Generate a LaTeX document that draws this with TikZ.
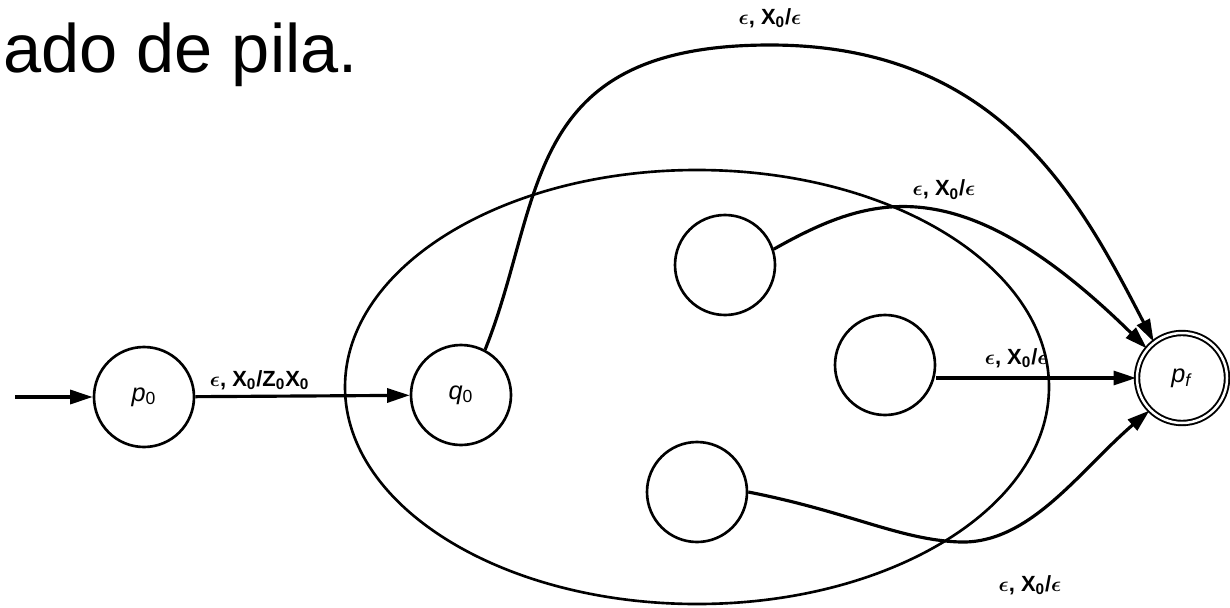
\documentclass[tikz,border=0pt]{standalone}
\usepackage{fontspec}
\setmainfont{Liberation Sans}
\usepackage{amsmath}
\usetikzlibrary{arrows.meta, positioning}
\tikzset{
	state/.style ={circle, draw=black, line width=1.5pt, minimum size=2cm, inner sep=0pt, font=\Large},
	accept/.style={state, double=white, double distance=0.5mm, line width=1.1pt, minimum size=1.8cm},
	trans/.style ={-{Triangle[length=4.5mm, width=2.8mm]}, line width=1.8pt},
	tlabel/.style={font=\fontsize{12.5}{14}\selectfont\bfseries\boldmath, inner sep=1pt},
}

\begin{document}
\begin{tikzpicture}[x=0.2mm, y=-0.2mm]
	\useasboundingbox (0,0) rectangle (1230,607);
	% title (cut at the left)
	\node[anchor=base west, inner sep=0pt, font=\fontsize{39}{44}\selectfont] (title) at (3,72) {ado de pila.};
	% states
	\node[state] (p0) at (144,397) {\textit{p}\textsubscript{0}};
	\node[state] (q0) at (461,395) {\textit{q}\textsubscript{0}};
	\node[state] (sa) at (725,265) {};
	\node[state] (sb) at (885,365) {};
	\node[state] (sc) at (697,492) {};
	\node[accept] (pf) at (1182,378) {\textit{p}\textsubscript{\textit{f}}};
	% the machine
	\draw[line width=1.5pt] (697,387) ellipse [x radius=352, y radius=217];
	\coordinate (start) at (15,397);
	% transitions
	\draw[trans] (start) -- (p0);
	\draw[trans] (p0) -- node[tlabel, above=2pt, pos=0.3] {$\epsilon$, X\textsubscript{0}/Z\textsubscript{0}X\textsubscript{0}} (q0);
	\draw[trans] (q0.62) .. controls (545,200) and (520,45) .. (770,45)
		node[tlabel, above=8pt] {$\epsilon$, X\textsubscript{0}/$\epsilon$}
		.. controls (1000,45) and (1080,200) .. (pf.128);
	\draw[trans] (sa.18) .. controls (870,195) and (960,165) .. (pf.140)
		node[tlabel, pos=0.55, above=6pt] {$\epsilon$, X\textsubscript{0}/$\epsilon$};
	\draw[trans] (sb.east |- pf.180) -- node[tlabel, above=4pt, pos=0.4] {$\epsilon$, X\textsubscript{0}/$\epsilon$} (pf.180);
	\draw[trans] (sc.east) .. controls (850,512) and (900,540) .. (960,542)
		node[tlabel, xshift=14mm, yshift=-8.6mm] {$\epsilon$, X\textsubscript{0}/$\epsilon$}
		.. controls (1030,544) and (1080,470) .. (pf.225);
\end{tikzpicture}
\end{document}
